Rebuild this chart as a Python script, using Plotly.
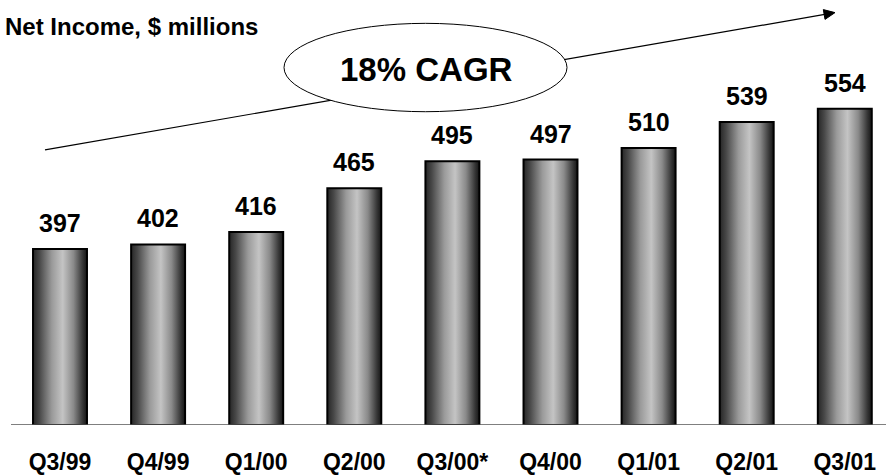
import plotly.graph_objects as go

# Quarterly net income, $ millions
quarters = ["Q3/99", "Q4/99", "Q1/00", "Q2/00", "Q3/00*", "Q4/00", "Q1/01", "Q2/01", "Q3/01"]
net_income = [397, 402, 416, 465, 495, 497, 510, 539, 554]
growth_label = "18% CAGR"
chart_title = "Net Income, $ millions"

W, H = 888, 475
M_B = 47
PLOT_H = H - M_B
AXIS_FLOOR = 200
Y_TOP = AXIS_FLOOR + PLOT_H / 0.9
BAR_WIDTH = 0.55
FONT = "Liberation Sans, Arial, sans-serif"


def px_x(px):
    return px / W


def px_y(py):
    return (PLOT_H - py) / PLOT_H


# cylinder-like grey shading across each bar
shade = [
    [0.0, "#262626"],
    [0.12, "#484848"],
    [0.35, "#9a9a9a"],
    [0.55, "#c4c4c4"],
    [0.75, "#8a8a8a"],
    [0.92, "#363636"],
    [1.0, "#141414"],
]

fig = go.Figure()

for i, v in enumerate(net_income):
    x0, x1 = i - BAR_WIDTH / 2, i + BAR_WIDTH / 2
    fig.add_trace(go.Scatter(
        x=[x0, x0, x1, x1, x0],
        y=[AXIS_FLOOR, v, v, AXIS_FLOOR, AXIS_FLOOR],
        mode="lines",
        fill="toself",
        fillgradient=dict(type="horizontal", colorscale=shade, start=x0, stop=x1),
        line=dict(color="black", width=2),
        hoverinfo="skip",
        showlegend=False,
    ))
    fig.add_annotation(
        x=i, y=v, text=str(v), showarrow=False,
        xanchor="center", yanchor="bottom", yshift=10,
        font=dict(family=FONT, size=25, color="black", weight="bold"),
    )

# baseline
fig.add_shape(type="line", xref="paper", yref="y",
              x0=px_x(11), x1=px_x(886), y0=AXIS_FLOOR, y1=AXIS_FLOOR,
              line=dict(color="#555555", width=1.5), layer="above")

# growth arrow, partly hidden behind the ellipse
tip = (835, 12.7)
start = (45, 151)
dx, dy = tip[0] - start[0], tip[1] - start[1]
L = (dx * dx + dy * dy) ** 0.5
ux, uy = dx / L, dy / L
nx, ny = -uy, ux
head_len, head_half = 11, 5
bx, by = tip[0] - head_len * ux, tip[1] - head_len * uy
fig.add_shape(type="line", xref="paper", yref="paper",
              x0=px_x(start[0]), y0=px_y(start[1]),
              x1=px_x(bx + 2 * ux), y1=px_y(by + 2 * uy),
              line=dict(color="black", width=1.2), layer="above")
fig.add_shape(type="circle", xref="paper", yref="paper",
              x0=px_x(284), x1=px_x(567), y0=px_y(112.5), y1=px_y(23.5),
              fillcolor="white", line=dict(color="black", width=1), layer="above")
c1 = (bx + head_half * nx, by + head_half * ny)
c2 = (bx - head_half * nx, by - head_half * ny)
path = "M {} {} L {} {} L {} {} Z".format(
    px_x(tip[0]), px_y(tip[1]), px_x(c1[0]), px_y(c1[1]), px_x(c2[0]), px_y(c2[1]))
fig.add_shape(type="path", xref="paper", yref="paper", path=path,
              fillcolor="black", line=dict(color="black", width=1), layer="above")

fig.add_annotation(
    xref="paper", yref="paper", x=px_x(426), y=px_y(70), text=growth_label,
    showarrow=False, xanchor="center", yanchor="middle",
    font=dict(family=FONT, size=33, color="black", weight="bold"),
)
fig.add_annotation(
    xref="paper", yref="paper", x=px_x(3), y=px_y(27), text=chart_title,
    showarrow=False, xanchor="left", yanchor="middle",
    font=dict(family=FONT, size=24, color="black", weight="bold"),
)

fig.update_layout(
    width=W, height=H,
    margin=dict(l=0, r=0, t=0, b=M_B),
    paper_bgcolor="white", plot_bgcolor="white",
    xaxis=dict(
        range=[-60 / 98.1, -60 / 98.1 + W / 98.1],
        tickvals=list(range(len(quarters))), ticktext=quarters,
        showgrid=False, zeroline=False, showline=False, ticks="",
        ticklabelstandoff=21,
        tickfont=dict(family=FONT, size=23, color="black", weight="bold"),
        fixedrange=True,
    ),
    yaxis=dict(range=[AXIS_FLOOR, Y_TOP], visible=False, fixedrange=True),
)

fig.write_html("out.html")
